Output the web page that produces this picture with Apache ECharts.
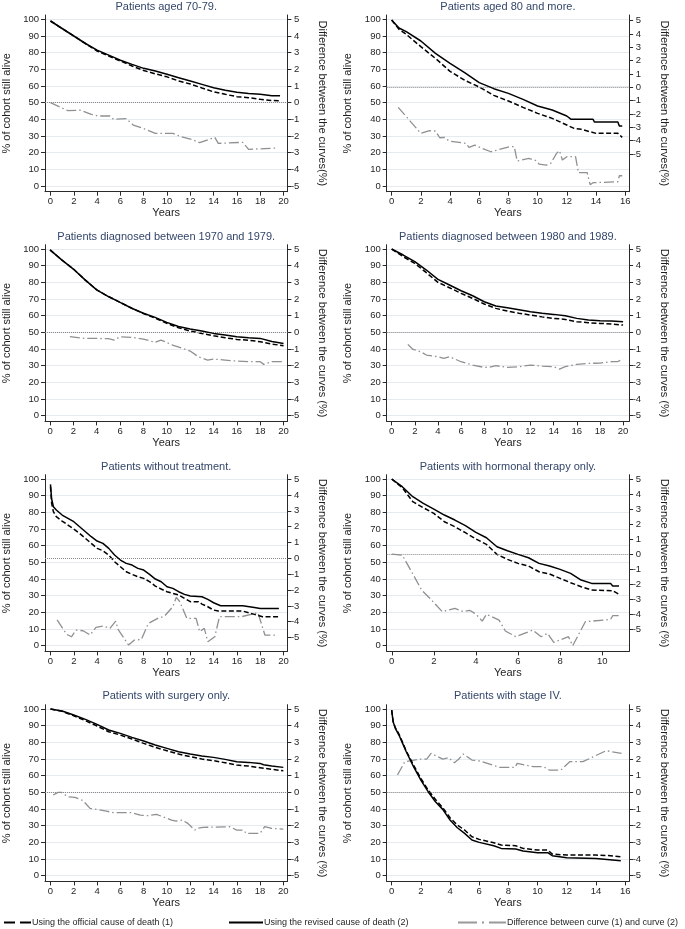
<!DOCTYPE html>
<html><head><meta charset="utf-8">
<script src="https://cdn.jsdelivr.net/npm/echarts@6/dist/echarts.min.js"></script>
<style>html,body{margin:0;padding:0;background:#fff}#c{width:685px;height:929px}</style>
</head><body><div id="c"></div>
<script>
// ---------- DATA ----------
const titles = [
  'Patients aged 70-79.', 'Patients aged 80 and more.',
  'Patients diagnosed between 1970 and 1979.', 'Patients diagnosed between 1980 and 1989.',
  'Patients without treatment.', 'Patients with hormonal therapy only.',
  'Patients with surgery only.', 'Patients with stage IV.'
];
const diffAxisNames = [
  'Difference between the curves(%)', 'Difference between the curves(%)',
  'Difference between the curves (%)', 'Difference between the curves (%)',
  'Difference between the curves (%)', 'Difference between the curves (%)',
  'Difference between the curves (%)', 'Difference between the curves (%)'
];
const seriesNames = ['Using the official cause of death (1)', 'Using the revised cause of death (2)', 'Difference between curve (1) and curve (2)'];
const xTicks20 = [0,2,4,6,8,10,12,14,16,18,20];
const xTicks16 = [0,2,4,6,8,10,12,14,16];
const xTicks10 = [0,2,4,6,8,10];
const survivalTicks = [0,10,20,30,40,50,60,70,80,90,100];
const diffTicks = [-5,-4,-3,-2,-1,0,1,2,3,4,5];
const xAxisName = 'Years';
const survivalAxisName = '% of cohort still alive';

// Panel 1: aged 70-79
const p1Official = [[0,99],[1,94.5],[2,90],[3,85.5],[4,81],[5,78],[6,75],[7,72],[8,69.3],[9,67.3],[10,65.5],[11,63],[12,61.2],[13,58.8],[14,56.5],[15,55],[16,53.6],[17,53],[18,52],[19,51.3],[19.7,51.2]];
const p1Revised = [[0,99],[1,94.5],[2,90],[3,85.5],[4,81.5],[5,78.5],[6,75.5],[7,73],[8,70.6],[9,69],[10,67],[11,65],[12,63],[13,61],[14,59],[15,57.5],[16,56.2],[17,55.5],[18,55],[19,54.2],[19.7,54.2]];
const p1Diff = [[0,0],[1.5,-0.48],[2.6,-0.45],[3.5,-0.7],[4.1,-0.8],[5.1,-0.8],[5.4,-1.0],[6.5,-0.96],[7.1,-1.34],[7.8,-1.5],[9,-1.84],[10.5,-1.84],[11.2,-2.04],[12.1,-2.2],[12.8,-2.4],[14.1,-2.08],[14.4,-2.44],[16.5,-2.38],[17,-2.8],[19.5,-2.72]];
// Panel 2: aged 80 and more
const p2Official = [[0,99.6],[0.5,94],[1,91],[2,83.6],[3,76.6],[4,68.8],[5,63.5],[6,59.4],[7,54.4],[8,51],[9,47.2],[10,43.6],[11,40.6],[12,36.6],[12.5,34.6],[13,34],[14,31.6],[15.5,31.6],[15.8,29.2]];
const p2Revised = [[0,99.6],[0.5,94.8],[1,92.6],[2,87],[3,79.6],[4,73.6],[5,68],[6,62],[7,58.4],[8,55.6],[9,52],[10,48],[11,45.6],[12,42],[12.3,40],[13.8,40],[13.9,38.4],[15.5,38.4],[15.6,36],[15.8,36]];
const p2Diff = [[0.45,-1.5],[2,-3.45],[2.6,-3.25],[3,-3.28],[3.3,-3.78],[3.6,-3.75],[3.95,-4.03],[5.1,-4.2],[5.3,-4.5],[5.7,-4.33],[6.2,-4.58],[6.8,-4.83],[8.1,-4.45],[8.4,-4.45],[8.6,-5.53],[9.4,-5.33],[9.9,-5.5],[10.1,-5.75],[10.6,-5.83],[10.9,-5.7],[11.3,-4.95],[11.5,-4.75],[11.7,-5.45],[12,-5.2],[12.6,-5.2],[12.8,-6.4],[13.4,-6.4],[13.6,-7.3],[13.8,-7.15],[15.5,-7.08],[15.6,-6.63],[15.8,-6.63]];
// Panel 3: diagnosed 1970-1979
const p3Official = [[0,99.5],[1,93.5],[2,88],[3,81.5],[4,75.5],[5,71.5],[6,68],[7,64.5],[8,61.3],[9,58.6],[10,55.4],[11,52.8],[12,50.8],[13,49.3],[14,48],[15,46.8],[16,45.8],[17,45.3],[18,44.4],[19,43],[20,42]];
const p3Revised = [[0,99.5],[1,93.5],[2,88],[3,81.5],[4,75.5],[5,71.5],[6,68],[7,64.5],[8,61.5],[9,59],[10,56],[11,53.5],[12,52],[13,50.8],[14,49.4],[15,48.4],[16,47.4],[17,46.8],[18,46.4],[19,44.5],[20,43.4]];
const p3Diff = [[1.7,-0.26],[3,-0.36],[4,-0.36],[5,-0.38],[5.5,-0.46],[6,-0.26],[7,-0.3],[8,-0.4],[9,-0.6],[9.5,-0.46],[10.5,-0.76],[11.5,-1.0],[12,-1.12],[12.7,-1.46],[13.5,-1.66],[14,-1.6],[15,-1.66],[16,-1.72],[17,-1.76],[18,-1.76],[18.3,-1.92],[19,-1.76],[20,-1.76]];
// Panel 4: diagnosed 1980-1989
const p4Official = [[0,100],[1,95.4],[2,91.4],[3,85.8],[4,80],[5,76.8],[6,73.4],[7,70.4],[8,67],[9,64.4],[10,62.8],[11,61.5],[12,60.4],[13,59.3],[14,58.4],[15,57.8],[16,56.4],[17,55.8],[18,55.4],[19,55],[20,54.4]];
const p4Revised = [[0,100],[1,96.4],[2,92.4],[3,87.4],[4,81.8],[5,78.4],[6,75],[7,72],[8,68.4],[9,65.8],[10,64.8],[11,63.6],[12,62.4],[13,61.5],[14,60.8],[15,60],[16,58.4],[17,57.4],[18,57],[19,56.8],[20,56.4]];
const p4Diff = [[1.4,-0.72],[1.8,-1.0],[2.5,-1.16],[3,-1.36],[4,-1.46],[4.5,-1.56],[5,-1.46],[6,-1.76],[7,-1.96],[8,-2.1],[8.5,-2.08],[9,-2.0],[10,-2.1],[11,-2.06],[12,-1.96],[13,-2.02],[14,-2.06],[14.5,-2.2],[15,-2.06],[16,-1.92],[17,-1.86],[18,-1.84],[19,-1.76],[19.5,-1.76],[20,-1.6]];
// Panel 5: without treatment
const p5Official = [[0,95.4],[0.1,85.4],[0.25,80.4],[0.5,77.4],[1,74.8],[1.5,72.4],[2,70],[2.5,67.4],[3,64.4],[3.5,61.4],[4,58.4],[4.5,57],[5,54.4],[5.5,50.4],[6,47.4],[6.5,44.4],[7,42.8],[7.5,41.4],[8,40.4],[8.5,38.4],[9,35.8],[9.5,34],[10,32.4],[10.5,31.4],[11,30.4],[11.5,28.4],[12,26.4],[12.7,26.4],[13,25],[13.5,23.4],[14,21.4],[14.4,20.8],[16.5,20.8],[17.5,18.8],[18.2,17.4],[19.6,17.4]];
const p5Revised = [[0,96.8],[0.1,88],[0.25,83.4],[0.5,81.4],[1,78.4],[1.5,76.4],[2,74.4],[2.5,71.4],[3,68.4],[3.5,65.4],[4,62.8],[4.5,61.4],[5,58.4],[5.5,54.4],[6,51.4],[6.5,49.4],[7,48.4],[7.5,46.4],[8,45.4],[8.5,42.8],[9,40],[9.5,38.4],[10,35.4],[10.5,34.4],[11,32.4],[11.5,30.8],[12,29.8],[13,29.4],[13.5,27.8],[14,25.8],[14.6,24],[16.5,24],[17.5,23],[18,22.4],[19.6,22.4]];
const p5Diff = [[0.57,-3.89],[1.4,-4.8],[1.8,-4.95],[2.2,-4.53],[2.8,-4.57],[3.4,-4.84],[3.9,-4.36],[4.5,-4.27],[5.1,-4.42],[5.6,-3.96],[5.8,-4.48],[6.7,-5.47],[7.2,-5.16],[7.8,-5.12],[8.4,-4.11],[9.2,-3.79],[9.8,-3.64],[10.5,-3.05],[10.8,-2.46],[11.1,-2.74],[11.7,-3.79],[12.5,-3.79],[12.8,-4.63],[13.2,-4.42],[13.5,-5.26],[14.1,-4.95],[14.5,-3.68],[16.4,-3.68],[17.8,-3.43],[18.4,-4.84],[19.4,-4.84]];
// Panel 6: hormonal therapy only
const p6Official = [[0,100],[0.5,94.8],[1,86.4],[1.5,82.8],[2,79.4],[2.5,74.4],[3,71.4],[3.5,67.8],[4,64],[4.5,60.8],[5,54.8],[5.5,51.8],[6,49.4],[6.5,47.8],[7,44.4],[7.5,43],[8,40.4],[8.5,37.8],[9,35.4],[9.5,33.4],[10.5,33],[10.8,30.8]];
const p6Revised = [[0,100],[0.5,95.4],[1,89.4],[1.5,85.4],[2,82],[2.5,78.4],[3,75.4],[3.5,72],[4,68],[4.5,64.8],[5,59.4],[5.5,57],[6,54.8],[6.5,52.8],[7,49.4],[7.5,47.8],[8,45.8],[8.5,43.4],[9,39.4],[9.5,37.4],[10.4,37.4],[10.5,35.8],[10.8,35.8]];
const p6Diff = [[0,0],[0.5,-0.07],[1.03,-1.4],[1.42,-2.4],[1.82,-2.96],[2.4,-3.84],[3,-3.62],[3.4,-3.84],[3.7,-3.75],[4,-4.0],[4.3,-4.47],[4.5,-4.02],[5.1,-4.4],[5.4,-5.13],[5.9,-5.51],[6.3,-5.29],[6.7,-5.07],[7.1,-5.51],[7.4,-5.29],[7.7,-5.89],[8.4,-5.51],[8.6,-6.11],[9.2,-4.51],[10.4,-4.36],[10.5,-4.11],[10.8,-4.11]];
// Panel 7: surgery only
const p7Official = [[0,100],[1,98.6],[2,96],[3,93],[4,89.8],[5,86.4],[6,84.4],[7,82],[8,79.4],[9,77],[10,75],[11,73],[12,71.4],[13,70],[14,69],[15,67.8],[16,66.4],[17,65.8],[18,64.8],[19,63.8],[20,63]];
const p7Revised = [[0,100],[1,98.8],[2,96.4],[3,93.8],[4,90.8],[5,87.4],[6,85.4],[7,83],[8,80.8],[9,78.4],[10,76.4],[11,74.4],[12,73],[13,71.8],[14,71],[15,69.8],[16,68.4],[17,68],[18,67.4],[18.3,66.6],[19,65.8],[20,65]];
const p7Diff = [[0.23,-0.16],[0.65,0],[0.95,0],[1.5,-0.26],[2.1,-0.3],[2.5,-0.4],[2.8,-0.5],[3.4,-0.96],[3.95,-1.02],[4.8,-1.12],[5.4,-1.22],[7.0,-1.22],[7.7,-1.36],[8.3,-1.4],[9.1,-1.32],[9.5,-1.42],[10.4,-1.66],[10.8,-1.72],[11.3,-1.66],[11.8,-1.86],[12.4,-2.26],[12.6,-2.16],[13.1,-2.1],[15.4,-2.06],[16,-2.26],[16.6,-2.26],[16.8,-2.46],[18,-2.46],[18.4,-2.06],[19,-2.16],[20,-2.2]];
// Panel 8: stage IV
const p8Official = [[0,99.4],[0.1,92.6],[0.25,88.8],[0.5,85],[0.75,80],[1,74.8],[1.5,66.4],[2,58.4],[2.5,51.4],[3,45.8],[3.5,40.8],[4,34.8],[4.5,30.4],[5,27.4],[5.5,23.4],[6,21.8],[7,19.8],[7.5,18.4],[8.5,18],[9,16.4],[10,15.4],[10.7,15.4],[11,13],[12,12.4],[14,12.4],[15,12],[15.7,11.4]];
const p8Revised = [[0,99.4],[0.1,92.4],[0.25,88.4],[0.5,84.4],[0.75,79.4],[1,74.4],[1.5,65.4],[2,57.4],[2.5,50.4],[3,44.4],[3.5,39.8],[4,33.4],[4.5,28.8],[5,25.4],[5.5,21.4],[6,20],[7,18],[7.5,16.4],[8.5,16],[9,14.8],[10,13.8],[10.7,13.8],[11,12],[12,10.8],[14,10.4],[15.7,9]];
const p8Diff = [[0.4,1.04],[0.9,1.84],[1.95,2.0],[2.4,2.0],[2.7,2.34],[3.5,2.0],[3.9,2.08],[4.3,1.78],[4.6,2.0],[4.9,2.3],[5.5,1.94],[6.05,1.88],[7.4,1.5],[8.45,1.5],[8.6,1.74],[9.7,1.54],[10.4,1.54],[10.8,1.34],[11.6,1.34],[12.2,1.84],[13.1,1.84],[14.7,2.5],[15.75,2.34]];

// ---------- LAYOUT ----------
const panelData = [
  [p1Official, p1Revised, p1Diff, xTicks20],
  [p2Official, p2Revised, p2Diff, xTicks16],
  [p3Official, p3Revised, p3Diff, xTicks20],
  [p4Official, p4Revised, p4Diff, xTicks20],
  [p5Official, p5Revised, p5Diff, xTicks20],
  [p6Official, p6Revised, p6Diff, xTicks10],
  [p7Official, p7Revised, p7Diff, xTicks20],
  [p8Official, p8Revised, p8Diff, xTicks16]
];
const xRange = [[-0.47,20.33],[-0.34,16.27],[-0.43,20.33],[-0.43,20.52],[-0.47,20.33],[-0.24,11.28],[-0.47,20.35],[-0.34,16.27]];
const dRange = [[-5.34,5.26],[-7.825,5.425],[-5.34,5.26],[-5.34,5.26],[-5.874,5.284],[-6.489,5.289],[-5.34,5.26],[-5.34,5.26]];
const colLeft = [45, 386.7];
const gridW = 242.4;
const rowTop = [15, 244.7, 474.7, 704.7];
const gridH = 176.7;
const titleTop = [1, 231, 461, 690];

const FONT = 'Liberation Sans, Arial, Helvetica, sans-serif';
const TXT = '#1f1f1f';
const AX = '#2a2a2a';

const grids = [], xAxes = [], yAxes = [], series = [], titleArr = [];
panelData.forEach((pd, i) => {
  const col = i % 2, row = Math.floor(i / 2);
  grids.push({left: colLeft[col], top: rowTop[row], width: gridW, height: gridH, containLabel: false});
  titleArr.push({
    text: titles[i], left: colLeft[col] + gridW / 2, top: titleTop[row], textAlign: 'center', padding: 0,
    textStyle: {fontFamily: FONT, fontSize: 11, fontWeight: 'normal', color: '#34466a'}
  });
  xAxes.push({
    type: 'value', gridIndex: i, min: xRange[i][0], max: xRange[i][1],
    name: xAxisName, nameLocation: 'middle', nameGap: 16,
    nameTextStyle: {fontFamily: FONT, fontSize: 11, color: TXT},
    axisLine: {show: true, onZero: false, lineStyle: {color: AX, width: 1}},
    axisTick: {show: true, length: 4, customValues: pd[3], lineStyle: {color: AX}},
    axisLabel: {customValues: pd[3], margin: 5, fontFamily: FONT, fontSize: 9.5, color: TXT},
    splitLine: {show: false}
  });
  yAxes.push({
    type: 'value', gridIndex: i, position: 'left', min: -3.4, max: 102.6,
    name: survivalAxisName, nameLocation: 'middle', nameGap: 33,
    nameTextStyle: {fontFamily: FONT, fontSize: 11, color: TXT},
    axisLine: {show: true, onZero: false, lineStyle: {color: AX, width: 1}},
    axisTick: {show: true, length: 4, customValues: survivalTicks, lineStyle: {color: AX}},
    axisLabel: {customValues: survivalTicks, margin: 6, fontFamily: FONT, fontSize: 9.5, color: TXT},
    splitLine: {show: true, lineStyle: {color: '#e4eaef', width: 1}}
  });
  yAxes.push({
    type: 'value', gridIndex: i, position: 'right', min: dRange[i][0], max: dRange[i][1],
    name: diffAxisNames[i], nameLocation: 'middle', nameGap: 29, nameRotate: -90,
    nameTextStyle: {fontFamily: FONT, fontSize: 11, color: TXT},
    axisLine: {show: true, onZero: false, lineStyle: {color: AX, width: 1}},
    axisTick: {show: true, length: 4, customValues: diffTicks, lineStyle: {color: AX}},
    axisLabel: {customValues: diffTicks, margin: 12, align: 'right', fontFamily: FONT, fontSize: 9.5, color: TXT},
    splitLine: {show: false}
  });
  series.push({
    name: seriesNames[0], type: 'line', xAxisIndex: i, yAxisIndex: 2 * i, data: pd[0],
    symbol: 'none', z: 4, itemStyle: {color: '#000'}, lineStyle: {color: '#000', width: 1.5, type: [5, 2.5]}
  });
  series.push({
    name: seriesNames[1], type: 'line', xAxisIndex: i, yAxisIndex: 2 * i, data: pd[1],
    symbol: 'none', z: 5, itemStyle: {color: '#000'}, lineStyle: {color: '#000', width: 1.5, type: 'solid'}
  });
  series.push({
    name: seriesNames[2], type: 'line', xAxisIndex: i, yAxisIndex: 2 * i + 1, data: pd[2],
    symbol: 'none', z: 3, itemStyle: {color: '#909090'}, lineStyle: {color: '#909090', width: 1.3, type: [10, 3, 1.5, 3]},
    markLine: {
      silent: true, symbol: 'none', label: {show: false}, animation: false,
      lineStyle: {color: '#8a8a8a', type: 'dotted', width: 1},
      data: [{yAxis: 0}]
    }
  });
});

const legendText = {fontFamily: FONT, fontSize: 9, color: TXT, padding: [0, 0, 0, -4]};
const hiddenSymbol = {opacity: 0, color: 'rgba(0,0,0,0)', borderWidth: 0};
const option = {
  animation: false,
  backgroundColor: '#ffffff',
  title: titleArr,
  grid: grids,
  xAxis: xAxes,
  yAxis: yAxes,
  series: series,
  legend: [
    {data: [seriesNames[0]], left: 3, top: 918, itemWidth: 27, itemHeight: 10, padding: 0,
     textStyle: legendText, itemStyle: hiddenSymbol, lineStyle: {type: [11, 5], width: 2, color: '#000'}},
    {data: [seriesNames[1]], left: 228, top: 918, itemWidth: 34, itemHeight: 10, padding: 0,
     textStyle: legendText, itemStyle: hiddenSymbol, lineStyle: {width: 2, color: '#000'}},
    {data: [seriesNames[2]], left: 457, top: 918, itemWidth: 48, itemHeight: 10, padding: 0,
     textStyle: legendText, itemStyle: hiddenSymbol, lineStyle: {type: [19, 5, 2, 5], width: 2, color: '#999'}}
  ]
};
const chart = echarts.init(document.getElementById('c'), null, {renderer: 'canvas'});
chart.setOption(option);
</script></body></html>
